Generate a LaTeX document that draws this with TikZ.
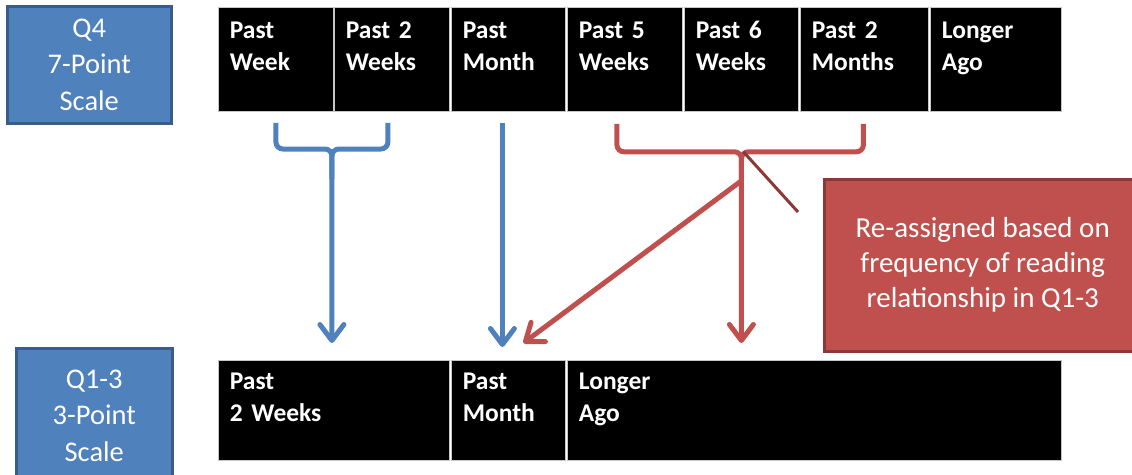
\documentclass[tikz,border=0pt]{standalone}
\usepackage{fontspec}
\setmainfont{Carlito}[BoldFeatures={WordSpace=0.7}]
\usetikzlibrary{arrows.meta}
\definecolor{qblue}{HTML}{4F81BD}
\definecolor{qblueline}{HTML}{385D8A}
\definecolor{qred}{HTML}{C0504D}
\definecolor{qredline}{HTML}{8C3836}
\tikzset{
    scalebox/.style={fill=qblue, draw=qblueline, line width=2.5pt, text=white, align=center, anchor=north west,
        inner sep=0pt, font=\fontsize{28.5}{36.5}\selectfont},
    cell/.style={fill=black, draw=gray!45, line width=0.8pt, text=white, anchor=north west, align=left,
        inner xsep=11.5pt, inner ysep=0pt, text width=#1-23pt, text height=31pt, text depth=73pt,
        font=\bfseries\fontsize{25.5}{32}\selectfont},
    lowcell/.style={cell=#1, text height=29pt, text depth=71pt},
    notebox/.style={fill=qred, draw=qredline, line width=2.5pt, text=white, align=center, anchor=north west,
        minimum width=317pt, minimum height=172pt, inner sep=0pt, font=\fontsize{29}{35}\selectfont},
    bluearrow/.style={draw=qblue, line width=5pt, rounded corners=7pt},
    redarrow/.style={draw=qred, line width=5pt, rounded corners=7pt},
    headed/.style={-{Straight Barb[length=16pt,width=24pt,round]}}
}
\begin{document}
\begin{tikzpicture}[x=1pt,y=-1pt]
    \useasboundingbox (0,0) rectangle (1132,474);

    % scale labels
    \node[scalebox, minimum width=164pt, minimum height=117pt] (q4) at (6,5) {Q4\\7-Point\\Scale};
    \node[scalebox, minimum width=156pt, minimum height=135pt] (q13) at (15,347) {Q1-3\\3-Point\\Scale};

    % 7 point scale
    \node[cell=115] (pweek) at (218,7) {Past\\Week};
    \node[cell=115] (ptwoweeks) at (334,7) {Past 2\\Weeks};
    \node[cell=114] (pmonth) at (451,7) {Past\\Month};
    \node[cell=115] (pfiveweeks) at (567,7) {Past 5\\Weeks};
    \node[cell=114] (psixweeks) at (684,7) {Past 6\\Weeks};
    \node[cell=128] (ptwomonths) at (800,7) {Past 2\\Months};
    \node[cell=131] (longer) at (930,7) {Longer\\Ago};

    % 3 point scale
    \node[lowcell=231] (btwoweeks) at (218,360) {Past\\2 Weeks};
    \node[lowcell=114] (bmonth) at (451,360) {Past\\Month};
    \node[lowcell=494] (blonger) at (567,360) {Longer\\Ago};

    \node[notebox] (reassign) at (823,178) {Re-assigned based on\\frequency of reading\\relationship in Q1-3};

    % blue brackets
    \coordinate (bj) at ([xshift=-2pt]btwoweeks.north |- 0,149);
    \draw[bluearrow, headed] ([yshift=-11pt]pweek.south) |- (bj) -- ([xshift=-2pt,yshift=17pt]btwoweeks.north);
    \draw[bluearrow] ([xshift=-4pt,yshift=-11pt]ptwoweeks.south) |- (bj) -- ++(0,30);
    \draw[bluearrow, headed] ([xshift=-6pt,yshift=-11pt]pmonth.south) -- ([xshift=-6pt,yshift=13pt]bmonth.north);

    % red brackets
    \coordinate (rj) at ([yshift=-40pt]psixweeks.south);
    \coordinate (rtip) at (rj |- 0,343);
    \draw[redarrow, headed] ([xshift=-8pt,yshift=-12pt]pfiveweeks.south) |- (rj) -- (rtip);
    \draw[redarrow] ([xshift=-1pt,yshift=-12pt]ptwomonths.south) |- (rj) -- ++(0,30);
    \draw[redarrow, headed] ([yshift=-29pt]rj) -- ([xshift=15pt,yshift=17pt]bmonth.north);
    \draw[qredline, line width=3pt] ([xshift=2pt]rj) -- ([xshift=-25pt,yshift=-34pt]reassign.north west);
\end{tikzpicture}
\end{document}
